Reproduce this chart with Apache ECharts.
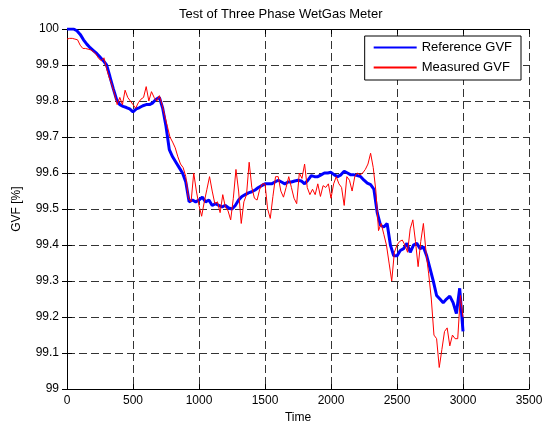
<!DOCTYPE html>
<html>
<head>
<meta charset="utf-8">
<script src="https://cdn.jsdelivr.net/npm/echarts@6/dist/echarts.min.js"></script>
<style>html,body{margin:0;padding:0;background:#fff}#c{width:553px;height:429px}</style>
</head>
<body>
<div id="c"></div>
<script>
// Reference GVF sampled every 25 time units, 0..3000
var refTime = [];
for (var i = 0; i <= 120; i++) refTime.push(i * 25);
var referenceGVF = [
100.0,100.0,100.0,99.995,99.985,99.97,99.958,99.948,99.94,99.932,
99.922,99.912,99.9,99.868,99.835,99.805,99.79,99.785,99.782,99.778,
99.77,99.778,99.782,99.787,99.79,99.79,99.795,99.805,99.81,99.78,
99.73,99.665,99.645,99.63,99.615,99.6,99.575,99.52,99.525,99.52,
99.525,99.533,99.52,99.525,99.51,99.515,99.51,99.506,99.51,99.503,
99.50,99.51,99.525,99.535,99.54,99.545,99.548,99.553,99.56,99.565,
99.57,99.57,99.57,99.575,99.58,99.575,99.57,99.575,99.575,99.578,
99.58,99.578,99.57,99.58,99.593,99.59,99.59,99.595,99.60,99.60,
99.602,99.595,99.59,99.595,99.605,99.60,99.595,99.595,99.593,99.59,
99.58,99.572,99.568,99.555,99.49,99.455,99.45,99.46,99.40,99.37,
99.37,99.385,99.39,99.405,99.38,99.40,99.405,99.39,99.395,99.37,
99.335,99.30,99.26,99.25,99.24,99.25,99.258,99.24,99.21,99.28,
99.16
];

// Measured GVF sampled every 20 time units, 0..3000
var measTime = [];
for (var j = 0; j <= 150; j++) measTime.push(j * 20);
var measuredGVF = [
99.972,99.974,99.974,99.972,99.97,99.955,99.946,99.946,99.944,99.942,
99.937,99.93,99.918,99.912,99.92,99.89,99.865,99.845,99.82,99.79,
99.81,99.79,99.83,99.81,99.80,99.79,99.78,99.795,99.805,99.81,
99.84,99.80,99.826,99.81,99.80,99.815,99.79,99.76,99.73,99.70,
99.686,99.67,99.645,99.625,99.615,99.59,99.53,99.52,99.60,99.55,
99.51,99.48,99.52,99.555,99.59,99.55,99.515,99.52,99.49,99.54,
99.505,99.495,99.47,99.53,99.61,99.55,99.46,99.52,99.54,99.63,
99.56,99.53,99.525,99.555,99.57,99.57,99.50,99.474,99.535,99.59,
99.59,99.55,99.533,99.56,99.59,99.56,99.53,99.515,99.60,99.585,
99.625,99.56,99.54,99.555,99.54,99.57,99.535,99.565,99.56,99.57,
99.53,99.57,99.59,99.57,99.56,99.51,99.59,99.58,99.55,99.59,
99.60,99.595,99.60,99.61,99.625,99.655,99.615,99.55,99.44,99.46,
99.43,99.40,99.35,99.30,99.38,99.40,99.41,99.414,99.40,99.38,
99.445,99.47,99.41,99.34,99.41,99.46,99.38,99.32,99.25,99.15,
99.14,99.06,99.11,99.16,99.17,99.12,99.15,99.14,99.14,99.26,
99.20
];

function pairs(ts, vals){ return ts.map(function(t,i){ return [t, vals[i]]; }); }

var font = 'Liberation Sans, Arial, sans-serif';
var chart = echarts.init(document.getElementById('c'), null, {renderer:'canvas'});
var gridStyle = {show:true, lineStyle:{color:'#333', type:[8,4], width:1}};
chart.setOption({
  animation:false,
  backgroundColor:'#fff',
  title:{text:'Test of Three Phase WetGas Meter', left:174, top:3,
    textStyle:{fontFamily:font, fontSize:13, fontWeight:'normal', color:'#000'}},
  legend:{
    orient:'vertical', right:32, top:36,
    backgroundColor:'#fff', borderColor:'#000', borderWidth:1,
    padding:[5,9,6,8], itemGap:7, itemWidth:43, itemHeight:14,
    itemStyle:{opacity:0},
    textStyle:{fontFamily:font, fontSize:13, color:'#000'},
    data:['Reference GVF','Measured GVF']
  },
  grid:{left:67, right:24, top:29, bottom:37},
  xAxis:[{
    type:'value', min:0, max:3500, interval:500,
    name:'Time', nameLocation:'middle', nameGap:21,
    nameTextStyle:{fontFamily:font, fontSize:12, color:'#000'},
    axisLine:{lineStyle:{color:'#000', width:1}},
    axisTick:{inside:true, length:5, lineStyle:{color:'#000'}},
    axisLabel:{fontFamily:font, fontSize:12, color:'#000', margin:6,
      formatter:function(v){ return String(v); }},
    splitLine:gridStyle
  },{
    type:'value', min:0, max:3500, interval:500, position:'top',
    axisLine:{lineStyle:{color:'#000', width:1}},
    axisTick:{inside:true, length:5, lineStyle:{color:'#000'}},
    axisLabel:{show:false}, splitLine:{show:false}
  }],
  yAxis:[{
    type:'value', min:99, max:100, interval:0.1,
    name:'GVF [%]', nameLocation:'middle', nameGap:44,
    nameTextStyle:{fontFamily:font, fontSize:12, color:'#000'},
    axisLine:{show:true, lineStyle:{color:'#000', width:1}},
    axisTick:{show:true, inside:true, length:5, lineStyle:{color:'#000'}},
    axisLabel:{fontFamily:font, fontSize:12, color:'#000', margin:8,
      formatter:function(v){ return String(parseFloat(v.toFixed(1))); }},
    splitLine:gridStyle
  },{
    type:'value', min:99, max:100, interval:0.1, position:'right',
    axisLine:{show:true, lineStyle:{color:'#000', width:1}},
    axisTick:{show:true, inside:true, length:5, lineStyle:{color:'#000'}},
    axisLabel:{show:false}, splitLine:{show:false}
  }],
  series:[{
    name:'Reference GVF', type:'line', data:pairs(refTime, referenceGVF),
    showSymbol:false, symbol:'none',
    lineStyle:{color:'#0000ff', width:3}, itemStyle:{color:'#0000ff'}
  },{
    name:'Measured GVF', type:'line', data:pairs(measTime, measuredGVF),
    showSymbol:false, symbol:'none',
    lineStyle:{color:'#ff0000', width:1}, itemStyle:{color:'#ff0000'}
  }]
});
</script>
</body>
</html>
